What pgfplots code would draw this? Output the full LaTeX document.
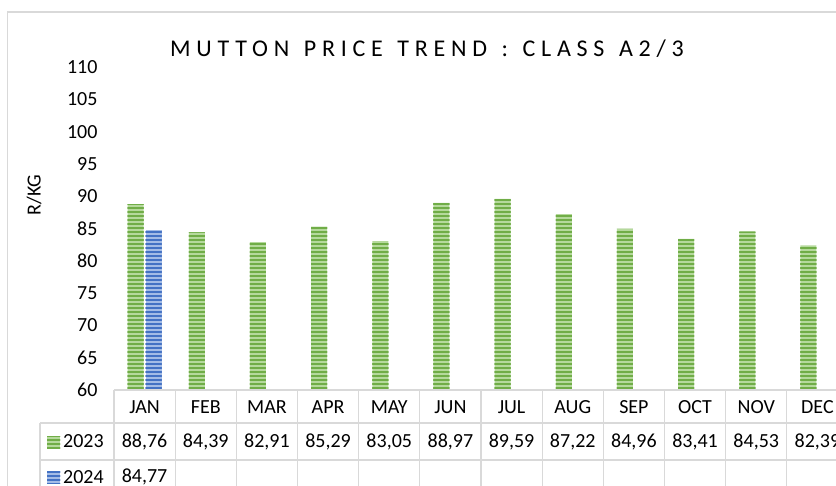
\documentclass[border=0pt]{standalone}
\usepackage{fontspec}
\setmainfont{Carlito}
\newfontfamily\titlefont[LetterSpace=24,WordSpace=1.3]{Carlito}
\usepackage{pgfplots}
\pgfplotsset{compat=1.18}
\usetikzlibrary{patterns}
\pgfdeclarepatternformonly{hstripes}{\pgfpoint{-2pt}{-1pt}}{\pgfpoint{6pt}{5pt}}{\pgfpoint{4pt}{4pt}}{%
  \pgfpathrectangle{\pgfpoint{-2pt}{0pt}}{\pgfpoint{8pt}{2pt}}\pgfusepath{fill}}
\definecolor{gdark}{HTML}{70AD47}
\definecolor{glight}{HTML}{B5D99C}
\definecolor{bdark}{HTML}{4472C4}
\definecolor{blight}{HTML}{A4BCE6}
\definecolor{gridc}{HTML}{D9D9D9}
\tikzset{
  gbar/.style={fill=glight, draw=none, postaction={pattern=hstripes, pattern color=gdark}},
  bbar/.style={fill=blight, draw=none, postaction={pattern=hstripes, pattern color=bdark}},
}
\newcommand{\tf}{\fontsize{20}{24}\selectfont}
\begin{document}
\begin{tikzpicture}
\useasboundingbox (0,0) rectangle (836pt,-485pt);
\clip (0,0) rectangle (836pt,-485pt);
\fill[white] (0,0) rectangle (836pt,-485pt);
\begin{scope}[x=1pt,y=-1pt]
  \draw[gridc, line width=1.4pt] (7.5,900) -- (7.5,12) -- (900,12);
  \node[font=\titlefont\fontsize{24}{28}\selectfont] at (427,49) {MUTTON PRICE TREND : CLASS A2/3};
  \node[font=\tf, rotate=90] at (34,195) {R/KG};
\end{scope}
\begin{axis}[at={(114pt,-390pt)}, anchor=south west, scale only axis,
  width=734pt, height=323pt, xmin=-0.5, xmax=11.5, ymin=60, ymax=110,
  ytick={60,65,...,110}, xtick=\empty, axis line style={draw=none},
  major tick length=0pt, ybar, bar width=16pt,
  yticklabel style={font=\tf, xshift=-13pt},
  /pgf/number format/assume math mode=true, clip=false]
\addplot[gbar, bar shift=-9pt] coordinates {(0,88.76) (1,84.39) (2,82.91) (3,85.29) (4,83.05) (5,88.97) (6,89.59) (7,87.22) (8,84.96) (9,83.41) (10,84.53) (11,82.39)};
\addplot[bbar, bar shift=9pt] coordinates {(0,84.77)};
\end{axis}
\begin{scope}[x=1pt,y=-1pt]
  \draw[gridc, line width=1.2pt] (114,390) -- (900,390);
  \draw[gridc, line width=1.2pt] (40,423) -- (900,423);
  \draw[gridc, line width=1.2pt] (40,460) -- (900,460);
  \draw[gridc, line width=1.2pt] (40,497) -- (900,497);
  \draw[gridc, line width=1.2pt] (40,423) -- (40,500);
  \foreach \k in {0,...,12} {\draw[gridc, line width=1.2pt] (114+61.1667*\k,390) -- (114+61.1667*\k,500);}
  \foreach \m [count=\i from 0] in {JAN,FEB,MAR,APR,MAY,JUN,JUL,AUG,SEP,OCT,NOV,DEC}
    {\node[font=\tf] at (144.58+61.1667*\i,407.5) {\m};}
  \foreach \v [count=\i from 0] in {88{,}76,84{,}39,82{,}91,85{,}29,83{,}05,88{,}97,89{,}59,87{,}22,84{,}96,83{,}41,84{,}53,82{,}39}
    {\node[font=\tf] at (144.58+61.1667*\i,441.5) {\v};}
  \node[font=\tf] at (144.58,477) {84,77};
  \fill[gbar] (47,436) rectangle (60,448);
  \node[font=\tf, anchor=west, inner sep=0pt] at (63,441.5) {2023};
  \fill[bbar] (47,471) rectangle (60,483);
  \node[font=\tf, anchor=west, inner sep=0pt] at (63,477) {2024};
\end{scope}
\end{tikzpicture}
\end{document}
